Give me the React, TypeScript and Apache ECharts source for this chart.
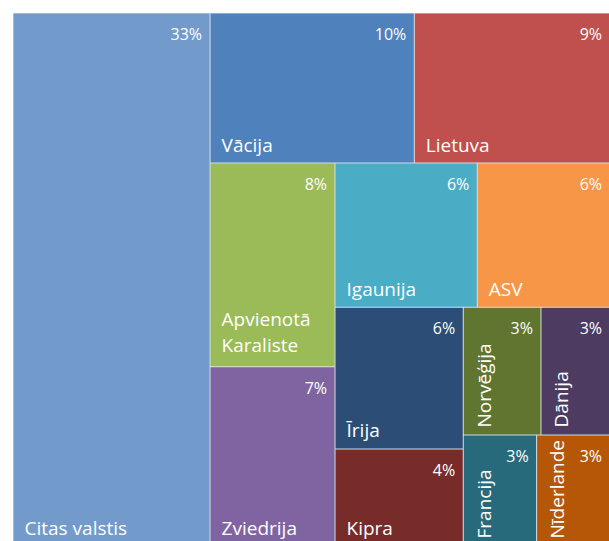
import React, { useEffect, useRef } from "react";
import * as echarts from "echarts";

// Export partner countries and their shares (%)
const countries = [
  "Citas valstis",
  "Vācija",
  "Lietuva",
  "Apvienotā Karaliste",
  "Zviedrija",
  "Igaunija",
  "ASV",
  "Īrija",
  "Kipra",
  "Norvēģija",
  "Dānija",
  "Francija",
  "Nīderlande",
];
const shares = [33.0, 9.63, 9.23, 7.99, 7.04, 6.44, 6.01, 5.71, 3.91, 3.12, 2.77, 2.56, 2.56];
const colors = [
  "#729aca",
  "#4f81bd",
  "#c0504d",
  "#9bbb59",
  "#8064a2",
  "#4bacc6",
  "#f79646",
  "#2c4d75",
  "#772c2a",
  "#5f7530",
  "#4d3b62",
  "#276a7c",
  "#b65708",
];
// names drawn vertically in the narrow cells
const rotatedNames = ["Norvēģija", "Dānija", "Francija", "Nīderlande"];
const wrappedNames: Record<string, string> = { "Apvienotā Karaliste": "Apvienotā\nKaraliste" };
// nesting of the cells (indices into the arrays above), as in the reference layout
const groupTree: any[] = [0, [[1, 2], [[3, 4], [[5, 6], [[7, 8], [[9, 10], [11, 12]]]]]]];

const FONT = "'Open Sans', 'Noto Sans', sans-serif";
const GAP = "#d3dae3";
const CLEAR = "rgba(0,0,0,0)";

function buildNode(t: any, kind: "name" | "value"): any {
  if (typeof t === "number") {
    const name = countries[t];
    const value = shares[t];
    if (kind === "name") {
      const rotated = rotatedNames.includes(name);
      const label: any = rotated
        ? { rotate: 90, align: "left", verticalAlign: "top", overflow: "none", padding: [7, 0, 0, 7] }
        : {};
      if (wrappedNames[name]) {
        label.formatter = wrappedNames[name];
        label.padding = [0, 0, 8, 11];
      }
      return {
        name,
        value,
        itemStyle: { color: colors[t], borderColor: GAP, borderWidth: 0.5 },
        label,
      };
    }
    return { name, value, itemStyle: { color: CLEAR, borderColor: CLEAR, borderWidth: 0 } };
  }
  const node: any = { name: "", children: t.map((c: any) => buildNode(c, kind)) };
  if (kind === "value") node.itemStyle = { color: CLEAR, borderColor: CLEAR, borderWidth: 0 };
  return node;
}

export default function App() {
  const ref = useRef<HTMLDivElement>(null);
  useEffect(() => {
    if (!ref.current) return;
    const chart = echarts.init(ref.current, null, { renderer: "svg" });
    const common: any = {
      type: "treemap",
      left: 13,
      top: 13,
      width: 597,
      height: 533,
      squareRatio: 1,
      sort: false,
      roam: false,
      nodeClick: false,
      breadcrumb: { show: false },
      upperLabel: { show: false },
      emphasis: { disabled: true },
    };
    chart.setOption({
      animation: false,
      series: [
        {
          ...common,
          label: {
            show: true,
            position: "insideBottomLeft",
            distance: 0,
            padding: [0, 0, 5, 11],
            color: "#fff",
            fontFamily: FONT,
            fontSize: 19,
            lineHeight: 26,
          },
          itemStyle: { borderWidth: 0, gapWidth: 0, borderColor: "#fff" },
          data: groupTree.map((c) => buildNode(c, "name")),
        },
        {
          ...common,
          silent: true,
          color: [CLEAR],
          levels: [0, 1, 2, 3, 4, 5, 6, 7].map(() => ({
            color: [CLEAR],
            itemStyle: { color: CLEAR, borderColor: CLEAR, borderWidth: 0, gapWidth: 0 },
          })),
          label: {
            show: true,
            position: "insideTopRight",
            distance: 0,
            padding: [13, 8, 0, 0],
            color: "#fff",
            fontFamily: FONT,
            fontSize: 16,
            lineHeight: 16,
            formatter: (p: any) => Math.round(p.value) + "%",
          },
          itemStyle: { color: CLEAR, borderColor: CLEAR, borderWidth: 0, gapWidth: 0 },
          data: groupTree.map((c) => buildNode(c, "value")),
        },
      ],
    });
    return () => chart.dispose();
  }, []);
  return (
    <div
      ref={ref}
      style={{ position: "fixed", left: 0, top: 0, width: 609, height: 541, overflow: "hidden", background: "#fff" }}
    />
  );
}
